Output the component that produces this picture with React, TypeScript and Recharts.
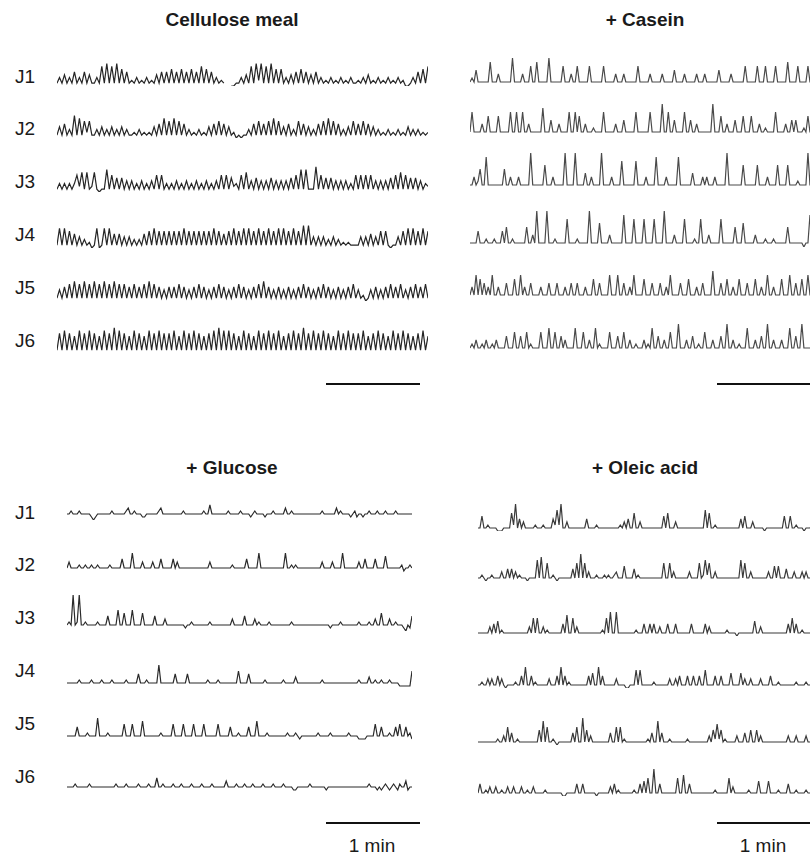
import { LineChart, Line, XAxis, YAxis } from "recharts"

// labels
const rowLabels = ["J1", "J2", "J3", "J4", "J5", "J6"]
const panelTitles = ["Cellulose meal", "+ Casein", "+ Glucose", "+ Oleic acid"]
const scaleText = "1 min"

// traces: one char per sample, level 0-9 (a-c = 10-12), "." = pen gap
const celluloseJ1 = ["131413151315141", "131718171816151", "213121312141515", "161516151615171", "61513121..00113", "141718281718161", "613141516151415", "131213121312131", "121314121312131", "213120013151617"]
const celluloseJ2 = ["141513181716261", "131413141314131", "121312121415171", "617161513121312", "141516151412010", "113151615161716", "141513161514131", "516171615131416", "151615141312131", "213121413131212"]
const celluloseJ3 = ["131313136271712", "710118161515141", "413141314161613", "131413141314131", "413141616152316", "171415141415141", "414151618181119", "161515141414131", "616161614141415", "161716151514132"]
const celluloseJ4 = ["171716151413120", "170171715151414", "131315161716161", "616161716161616", "161716151617161", "717161716171617", "171617161818141", "414131413121211", "114141514161610", "114161717161716"]
const celluloseJ5 = ["141516171617161", "716171617161615", "161516171615141", "515161514151615", "141516151415161", "514151617151415", "141514151615141", "516151415141516", "141201415141516", "151614151615161"]
const celluloseJ6 = ["171817161817181", "716181719181716", "181716181718171", "718161817181716", "171819181817161", "817161817181718", "161718171917181", "718171618171817", "171816171817161", "817181716171816"]

const caseinJ1 = ["12141111116111311", "11117111131115116", "11111711111151113", "11511111511111151", "11113111311111151", "11113111113111114", "11113111113111311", "11114111113111111", "51111151115111151", "11116111151111511"]
const caseinJ2 = ["16111131151111511", "11161161161131111", "11711141113111161", "16151131112111161", "11113111411111611", "11116111118116114", "11116114113111111", "18111511311141115", "11151113112111161", "11131141411121511"]
const caseinJ3 = ["11312511811111111", "51131113111119111", "11161113111119111", "19111141131111911", "11311117111111711", "11311118111131111", "18111111411113131", "11311111911111116", "11111161111311116", "11116111121111911"]
const caseinJ4 = ["11114111211121114", "15112111111511319", "11119111211111711", "11211111911116111", "13111111811117111", "17111171111911113", "11117111121171113", "11111711111151116", "11111311112111211", "11115111111101181"]
const caseinJ5 = ["13161514131611311", "14111511613114111", "13111411141113114", "11411131115114111", "16111611411316111", "15111411141131611", "11411151113114111", "17111411511311511", "14111511311611311", "15111611411511611"]
const caseinJ6 = ["12131121311213111", "14111511411512111", "15111611511413111", "16111511311612111", "15111411511311211", "13121611411311511", "17111311411211511", "13111411711311211", "16111311411711311", "13111611411711111"]

const glucoseJ1 = ["22322232222210122", "22222322222234223", "22211222222342222", "22222232222222223", "22522222222322222", "32222123222212223", "22222422322222222", "22222232222224232", "22212312212232223", "22232222322222222"]
const glucoseJ2 = ["24222232232232232", "22223222225222272", "22242222422252222", "25242222222222222", "22422222222223222", "22252222272222222", "22222722323222222", "22222242222422227", "22222224225222252", "22262222222312232"]
const glucoseJ3 = ["232c23c2232222232", "22252222722622272", "22262222252222422", "22222221223222222", "22322222222224222", "22522224232222322", "22222222322222222", "22222222221222232", "22222223222232242", "26222422322210215"]
const glucoseJ4 = ["22222232222232222", "32222322222232222", "25222322222822222", "22522222522222222", "23222232222222226", "22225222222232222", "22223222224222222", "22222232222222222", "22222223222242232", "23222322221111116"]
const glucoseJ5 = ["22222522223222282", "22232222222622262", "22272222222232222", "26222262222622226", "22222262222252223", "22225222722223222", "22222232223212222", "22223222223222222", "22322221111222262", "25222322526225231"]
const glucoseJ6 = ["22223222222322222", "22222223222232222", "23222232225223222", "23222322223222232", "22232222224222232", "22322232222322223", "22223222211222222", "32222222122222222", "22222222222232221", "21232123213224122"]

const oleicJ1 = ["11511211110001111", "62914131111121112", "11114272911311111", "11114111121111111", "11112131411611311", "11111111151611131", "11111111111117161", "12111111111111415", "11131111101111111", "11511511211101112"]
const oleicJ2 = ["11210112111131141", "41312111011117181", "16112101111111416", "19161311121112121", "12311151111412111", "11111111161161311", "11111311116127261", "13111111111111716", "11311111111311515", "11141113111313111"]
const oleicJ3 = ["11111131415121111", "11111111131616113", "12111111141711613", "11111111111121618", "11811111111121114", "11414113111411141", "11111141111114131", "11111112111101111", "11115113111111111", "11114161411211111"]
const oleicJ4 = ["11211313114131011", "11211417114121111", "11311141714121111", "11111415117141111", "11311110011161611", "11112111111131131", "41114114114116111", "14114111151111513", "11311113111141112", "11111111211112111"]
const oleicJ5 = ["11111111112113161", "41121111111111518", "16112101111111416", "11915131111111114", "11616121111111111", "12141181411121111", "11112111111111131", "52725121111131114", "11511513111111111", "11113111311113111"]
const oleicJ6 = ["14112131131121131", "13111311211311111", "21111111100111114", "11411111101111113", "14121111111211415", "16119114111111116", "11711411111111111", "12111111613111111", "12111151111511112", "11114111211112111"]

const panels = [
  { title: panelTitles[0], traces: [celluloseJ1, celluloseJ2, celluloseJ3, celluloseJ4, celluloseJ5, celluloseJ6], left: 57, width: 371, height: 28, max: 10, base: 1, rows: [83, 135, 189, 245, 298, 350], stroke: "#262626", titleX: 232, titleY: 20 },
  { title: panelTitles[1], traces: [caseinJ1, caseinJ2, caseinJ3, caseinJ4, caseinJ5, caseinJ6], left: 470, width: 342, height: 40, max: 10, base: 1, rows: [82, 132, 185, 243, 295, 348], stroke: "#4a4a4a", titleX: 645, titleY: 20 },
  { title: panelTitles[2], traces: [glucoseJ1, glucoseJ2, glucoseJ3, glucoseJ4, glucoseJ5, glucoseJ6], left: 67, width: 345, height: 39, max: 13, base: 2, rows: [514, 568, 625, 683, 736, 787], stroke: "#2a2a2a", titleX: 232, titleY: 468 },
  { title: panelTitles[3], traces: [oleicJ1, oleicJ2, oleicJ3, oleicJ4, oleicJ5, oleicJ6], left: 478, width: 334, height: 30, max: 10, base: 1, rows: [528, 578, 633, 685, 742, 793], stroke: "#3a3a3a", titleX: 645, titleY: 468 },
]

const labelRowsTop = [77, 129, 182, 235, 288, 341]
const labelRowsBottom = [513, 565, 618, 671, 724, 777]

const font = "'Liberation Sans', Arial, sans-serif"

function toPoints(segments: string[]) {
  return segments
    .join("")
    .split("")
    .map((c, i) => ({ t: i, v: c === "." ? null : parseInt(c, 36) }))
}

function Trace({ segments, left, top, width, height, max, stroke }: any) {
  const data = toPoints(segments)
  return (
    <div style={{ position: "absolute", left, top }}>
      <LineChart width={width} height={height} data={data} margin={{ top: 0, right: 0, bottom: 0, left: 0 }}>
        <XAxis dataKey="t" type="number" domain={[0, data.length - 1]} hide />
        <YAxis domain={[0, max]} hide />
        <Line type="linear" dataKey="v" stroke={stroke} strokeWidth={1.2} dot={false} isAnimationActive={false} />
      </LineChart>
    </div>
  )
}

function Label({ text, x, y, bold, center }: any) {
  return (
    <div
      style={{
        position: "absolute",
        left: center ? x - 100 : x,
        top: y - 11,
        width: center ? 200 : undefined,
        textAlign: center ? "center" : "left",
        fontFamily: font,
        fontSize: 19,
        lineHeight: "22px",
        fontWeight: bold ? 700 : 400,
        color: "#1a1a1a",
        whiteSpace: "nowrap",
      }}
    >
      {text}
    </div>
  )
}

function ScaleBar({ x1, x2, y }: any) {
  return <div style={{ position: "absolute", left: x1, top: y - 1, width: x2 - x1, height: 1.5, background: "#111" }} />
}

export default function App() {
  return (
    <div style={{ position: "absolute", left: 0, top: 0, width: 810, height: 857, overflow: "hidden", background: "#fff" }}>
      {panels.map((p) => (
        <div key={p.title}>
          <Label text={p.title} x={p.titleX} y={p.titleY} bold center />
          {p.traces.map((tr, i) => (
            <Trace
              key={i}
              segments={tr}
              left={p.left}
              top={p.rows[i] - p.height * (1 - p.base / p.max)}
              width={p.width}
              height={p.height}
              max={p.max}
              stroke={p.stroke}
            />
          ))}
        </div>
      ))}
      {rowLabels.map((l, i) => (
        <Label key={"t" + l} text={l} x={15} y={labelRowsTop[i]} />
      ))}
      {rowLabels.map((l, i) => (
        <Label key={"b" + l} text={l} x={15} y={labelRowsBottom[i]} />
      ))}
      <ScaleBar x1={326} x2={420} y={384} />
      <ScaleBar x1={717} x2={810} y={384} />
      <ScaleBar x1={326} x2={420} y={823} />
      <ScaleBar x1={717} x2={810} y={823} />
      <Label text={scaleText} x={372} y={846} center />
      <Label text={scaleText} x={763} y={846} center />
    </div>
  )
}
